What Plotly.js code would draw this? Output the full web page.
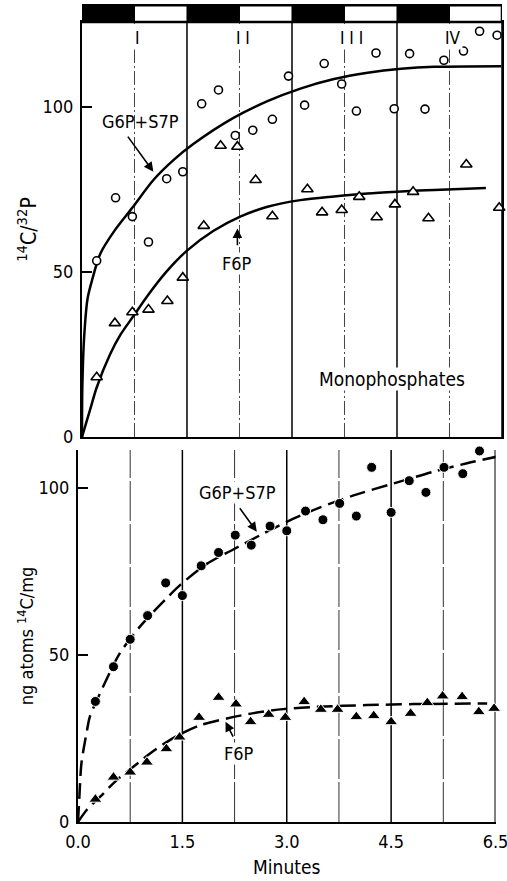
<!DOCTYPE html>
<html>
<head>
<meta charset="utf-8">
<script src="https://cdn.plot.ly/plotly-3.0.1.min.js"></script>
<style>html,body{margin:0;padding:0;background:#fff;}#chart{width:507px;height:881px;}</style>
</head>
<body>
<div id="chart"></div>
<script>
// ---------- data ----------
// x axis units: minutes as spaced on the drawn axis (tick "6.5" sits at the 6th unit)
var xTickVals = [0, 1.5, 3.0, 4.5, 6.0];
var xTickText = ['0.0', '1.5', '3.0', '4.5', '6.5'];
var yTickVals = [0, 50, 100];

// light/dark periods (dark start, dark end)
var darkStart = [0, 1.5, 3.0, 4.5];
var darkEnd = [0.75, 2.25, 3.75, 5.25];
var periodLabels = ['I', 'I I', 'I I I', 'IV'];
var periodLabelX = [0.8, 2.3, 3.85, 5.3];
var solidLines = [1.5, 3.0, 4.5, 6.0];
var midLines = [0.75, 2.25, 3.75, 5.25];

// Top panel: Monophosphates 14C/32P
var topG6X = [0.21,0.48,0.72,0.95,1.21,1.44,1.71,1.95,2.19,2.44,2.72,2.95,3.18,3.46,3.71,3.92,4.20,4.46,4.68,4.90,5.17,5.45,5.68,5.93];
var topG6Y = [53.4,72.5,66.8,59.1,78.3,80.4,101.0,105.2,91.4,93.0,96.3,109.4,100.6,113.2,107.0,98.8,116.4,99.5,116.2,99.4,114.2,117.0,123.0,121.8];
var topF6X = [0.21,0.47,0.72,0.95,1.22,1.44,1.74,1.98,2.22,2.48,2.72,3.22,3.43,3.71,3.96,4.21,4.47,4.73,4.95,5.49,5.96];
var topF6Y = [18.1,34.5,37.8,38.6,41.2,48.3,64.0,88.3,88.0,77.9,66.9,75.1,68.1,68.8,72.8,66.6,70.5,74.3,66.3,82.6,69.5];
var topFitG6X = [0,0.005,0.03,0.08,0.15,0.26,0.47,0.73,1.02,1.31,1.59,2.17,2.65,3.12,3.60,4.08,4.56,5.03,5.99];
var topFitG6Y = [0,15,30,42,48,55.5,62.7,69.8,77.9,84.0,88.8,96.8,101.8,105.6,108.5,110.4,111.6,112.2,112.4];
var topFitF6X = [0,0.115,0.21,0.40,0.55,0.73,0.95,1.21,1.50,1.88,2.26,2.65,3.12,3.60,4.08,4.56,5.03,5.77];
var topFitF6Y = [0,8.2,15.0,25.0,31.0,36.5,43.2,50.2,56.5,62.5,66.8,69.8,71.8,72.9,73.8,74.4,74.9,75.5];

// Bottom panel: ng atoms 14C/mg
var botG6X = [0.25,0.51,0.75,1.00,1.26,1.50,1.77,2.02,2.26,2.49,2.76,3.00,3.27,3.52,3.76,4.00,4.22,4.50,4.76,5.00,5.26,5.53,5.77,6.02];
var botG6Y = [36.1,46.5,54.7,61.8,71.6,67.8,76.7,80.7,85.9,82.9,88.6,87.2,93.1,90.5,95.4,91.6,106.2,92.7,102.2,98.7,106.2,104.3,111.1,108.9];
var botF6X = [0.25,0.51,0.75,0.99,1.27,1.46,1.74,2.02,2.27,2.48,2.74,2.98,3.25,3.49,3.73,4.00,4.25,4.50,4.78,5.02,5.24,5.52,5.76,5.98];
var botF6Y = [6.8,13.4,14.9,17.9,21.9,25.4,31.3,37.3,35.3,30.0,32.2,31.3,36.0,33.7,33.7,31.5,31.8,30.0,32.5,35.7,37.7,37.5,33.0,34.0];
var botFitG6X = [0,0.02,0.05,0.13,0.17,0.36,0.60,0.89,1.25,1.47,1.85,2.23,2.62,3.00,3.48,3.96,4.54,5.11,5.59,6.02];
var botFitG6Y = [0,7.6,17.7,27.5,31.5,40.5,50.5,58.5,66.5,71.0,77.3,81.6,85.9,89.9,94.2,97.8,101.4,104.9,107.4,109.4];
var botFitF6X = [0,0.125,0.32,0.56,0.80,1.04,1.28,1.50,1.76,2.14,2.52,2.95,3.43,4.15,4.82,5.88];
var botFitF6Y = [0,3.6,7.6,12.6,16.6,20.6,24.0,26.6,29.0,31.0,32.6,33.8,34.5,35.0,35.3,35.5];

// ---------- chart ----------
var FONT = '"DejaVu Sans Condensed", "Liberation Sans Narrow", "Liberation Sans", sans-serif';
var topRange = [0, 125.8];
var botRange = [0, 111.4];

var traces = [
  {x: topFitG6X, y: topFitG6Y, xaxis: 'x2', yaxis: 'y2', mode: 'lines', line: {color: '#000', width: 2.5, shape: 'spline', smoothing: 0.8}, hoverinfo: 'skip'},
  {x: topFitF6X, y: topFitF6Y, xaxis: 'x2', yaxis: 'y2', mode: 'lines', line: {color: '#000', width: 2.5, shape: 'spline', smoothing: 0.8}, hoverinfo: 'skip'},
  {x: topG6X, y: topG6Y, xaxis: 'x2', yaxis: 'y2', mode: 'markers', cliponaxis: false,
   marker: {symbol: 'circle', size: 8, color: '#fff', line: {color: '#000', width: 1.6}}},
  {x: topF6X, y: topF6Y, xaxis: 'x2', yaxis: 'y2', mode: 'markers', cliponaxis: false,
   marker: {symbol: 'triangle-up', size: 10, color: '#fff', line: {color: '#000', width: 1.6}}},
  {x: botFitG6X, y: botFitG6Y, xaxis: 'x', yaxis: 'y', mode: 'lines', line: {color: '#000', width: 2.5, shape: 'spline', smoothing: 0.8, dash: '16px,7px'}, hoverinfo: 'skip'},
  {x: botFitF6X, y: botFitF6Y, xaxis: 'x', yaxis: 'y', mode: 'lines', line: {color: '#000', width: 2.5, shape: 'spline', smoothing: 0.8, dash: '16px,7px'}, hoverinfo: 'skip'},
  {x: botG6X, y: botG6Y, xaxis: 'x', yaxis: 'y', mode: 'markers', cliponaxis: false,
   marker: {symbol: 'circle', size: 10, color: '#000', line: {color: '#fff', width: 1}}},
  {x: botF6X, y: botF6Y, xaxis: 'x', yaxis: 'y', mode: 'markers', cliponaxis: false,
   marker: {symbol: 'triangle-up', size: 11.5, color: '#000', line: {color: '#fff', width: 1}}}
];

var shapes = [];
// vertical lines in both panels
solidLines.forEach(function (v) {
  shapes.push({type: 'line', xref: 'x2', yref: 'y2', x0: v, x1: v, y0: topRange[0], y1: topRange[1], line: {color: '#000', width: 1.5}, layer: 'below'});
  shapes.push({type: 'line', xref: 'x', yref: 'y', x0: v, x1: v, y0: botRange[0], y1: botRange[1], line: {color: '#000', width: v === 6.0 ? 2 : 1.5}, layer: 'below'});
});
midLines.forEach(function (v) {
  shapes.push({type: 'line', xref: 'x2', yref: 'y2', x0: v, x1: v, y0: topRange[0], y1: topRange[1], line: {color: '#444', width: 1, dash: '14px,3px,2px,3px'}, layer: 'below'});
  shapes.push({type: 'line', xref: 'x', yref: 'y', x0: v, x1: v, y0: botRange[0], y1: botRange[1], line: {color: '#333', width: 1, dash: '40px,3px'}, layer: 'below'});
});
// light/dark bar
shapes.push({type: 'rect', xref: 'x2', yref: 'paper', x0: 0, x1: 6.0, y0: 0.978, y1: 0.9985, fillcolor: '#fff', line: {color: '#000', width: 2.5}});
darkStart.forEach(function (s, i) {
  shapes.push({type: 'rect', xref: 'x2', yref: 'paper', x0: s, x1: darkEnd[i], y0: 0.978, y1: 0.9985, fillcolor: '#000', line: {color: '#000', width: 1}});
});

var annotations = [];
periodLabels.forEach(function (t, i) {
  annotations.push({xref: 'x2', yref: 'y2', x: periodLabelX[i], y: 120.9, text: t, showarrow: false,
    font: {family: FONT, size: 17, color: '#000'}, bgcolor: '#fff', borderpad: 1});
});
// top panel labels
annotations.push({xref: 'x2', yref: 'y2', x: 0.83, y: 95.5, text: 'G6P+S7P', showarrow: false, font: {family: FONT, size: 18, color: '#000'}});
annotations.push({xref: 'x2', yref: 'y2', axref: 'x2', ayref: 'y2', x: 1.02, y: 80.4, ax: 0.64, ay: 91.5, text: '', showarrow: true, arrowhead: 2, arrowsize: 1.2, arrowwidth: 1.6, arrowcolor: '#000'});
annotations.push({xref: 'x2', yref: 'y2', x: 2.21, y: 52.7, text: 'F6P', showarrow: false, font: {family: FONT, size: 18, color: '#000'}, bgcolor: '#fff', borderpad: 0});
annotations.push({xref: 'x2', yref: 'y2', axref: 'x2', ayref: 'y2', x: 2.22, y: 63.2, ax: 2.22, ay: 57.7, text: '', showarrow: true, arrowhead: 2, arrowsize: 1.2, arrowwidth: 1.6, arrowcolor: '#000'});
annotations.push({xref: 'x2', yref: 'y2', x: 4.43, y: 17.6, text: 'Monophosphates', showarrow: false, font: {family: FONT, size: 19, color: '#000'}, bgcolor: '#fff', borderpad: 0});
// bottom panel labels
annotations.push({xref: 'x', yref: 'y', x: 2.29, y: 98.8, text: 'G6P+S7P', showarrow: false, font: {family: FONT, size: 18, color: '#000'}, bgcolor: '#fff', borderpad: 0});
annotations.push({xref: 'x', yref: 'y', axref: 'x', ayref: 'y', x: 2.57, y: 86.9, ax: 2.31, ay: 94.4, text: '', showarrow: true, arrowhead: 2, arrowsize: 1.2, arrowwidth: 1.6, arrowcolor: '#000'});
annotations.push({xref: 'x', yref: 'y', x: 2.32, y: 20.4, text: 'F6P', showarrow: false, font: {family: FONT, size: 18, color: '#000'}, bgcolor: '#fff', borderpad: 0});
annotations.push({xref: 'x', yref: 'y', axref: 'x', ayref: 'y', x: 2.12, y: 30.0, ax: 2.24, ay: 25.1, text: '', showarrow: true, arrowhead: 2, arrowsize: 1.2, arrowwidth: 1.6, arrowcolor: '#000'});

var layout = {
  width: 507, height: 881,
  margin: {l: 78, r: 5, t: 4, b: 59},
  paper_bgcolor: '#fff', plot_bgcolor: 'rgba(0,0,0,0)',
  showlegend: false,
  font: {family: FONT, size: 18, color: '#000'},
  xaxis: {domain: [0, 0.9847], range: [0, 6.0], anchor: 'y', tickvals: xTickVals, ticktext: xTickText,
    showline: true, linewidth: 2, linecolor: '#000', ticks: '', showgrid: false, zeroline: false,
    ticklabeloverflow: 'allow', ticklabelstandoff: 2,
    tickfont: {family: FONT, size: 18}, title: {text: 'Minutes', font: {family: FONT, size: 19}, standoff: 10}},
  yaxis: {domain: [0, 0.4548], range: botRange, anchor: 'x', tickvals: yTickVals,
    ticks: 'inside', ticklen: 10, tickwidth: 1.5, tickcolor: '#000',
    showline: true, linewidth: 2, linecolor: '#000', showgrid: false, zeroline: false,
    ticklabelstandoff: 3,
    tickfont: {family: FONT, size: 18},
    title: {text: 'ng atoms <sup>14</sup>C/mg', font: {family: FONT, size: 18}, standoff: 0}},
  xaxis2: {domain: [0.0094, 1], range: [0, 6.0], anchor: 'y2', showticklabels: false,
    showline: true, mirror: true, linewidth: 2, linecolor: '#000', ticks: '', showgrid: false, zeroline: false},
  yaxis2: {domain: [0.4707, 0.978], range: topRange, anchor: 'x2', tickvals: yTickVals,
    ticks: 'inside', ticklen: 10, tickwidth: 1.5, tickcolor: '#000',
    showline: true, mirror: true, linewidth: 2, linecolor: '#000', showgrid: false, zeroline: false,
    ticklabelstandoff: 3,
    tickfont: {family: FONT, size: 18},
    title: {text: '<sup>14</sup>C/<sup>32</sup>P', font: {family: FONT, size: 21}, standoff: 0}},
  shapes: shapes,
  annotations: annotations
};

Plotly.newPlot('chart', traces, layout, {staticPlot: true, displayModeBar: false});
</script>
</body>
</html>
